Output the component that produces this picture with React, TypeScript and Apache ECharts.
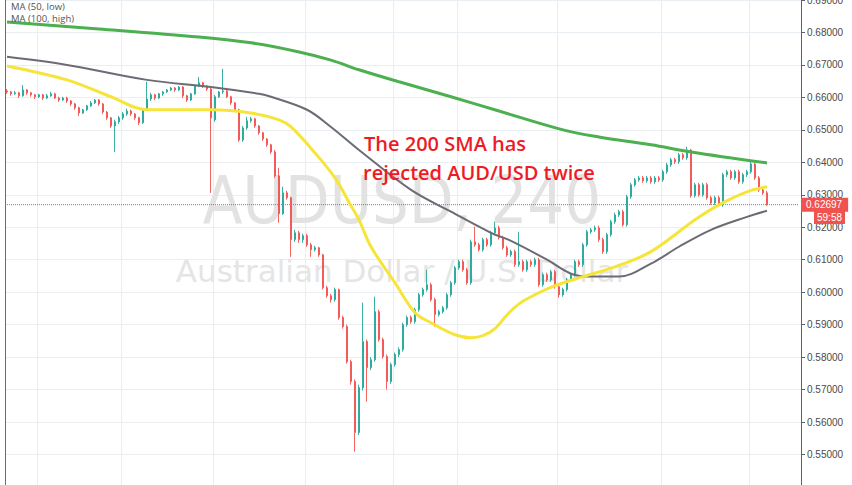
import React, { useEffect, useRef } from "react";
import * as echarts from "echarts";

// [open, close, low, high] per 4h bar
const candles: number[][] = [
  [0.6620,0.6617,0.6611,0.6626],[0.6617,0.6611,0.6605,0.6620],[0.6611,0.6614,0.6608,0.6620],[0.6614,0.6605,0.6598,0.6617],
  [0.6605,0.6623,0.6602,0.6638],[0.6623,0.6614,0.6608,0.6626],[0.6614,0.6608,0.6602,0.6617],[0.6608,0.6602,0.6595,0.6611],
  [0.6602,0.6608,0.6598,0.6611],[0.6608,0.6598,0.6592,0.6611],[0.6598,0.6605,0.6595,0.6611],[0.6605,0.6611,0.6602,0.6617],
  [0.6611,0.6598,0.6595,0.6614],[0.6598,0.6592,0.6586,0.6602],[0.6592,0.6598,0.6589,0.6602],[0.6598,0.6589,0.6583,0.6602],
  [0.6589,0.6580,0.6574,0.6592],[0.6580,0.6568,0.6562,0.6583],[0.6568,0.6552,0.6543,0.6571],[0.6552,0.6562,0.6549,0.6565],
  [0.6562,0.6574,0.6558,0.6577],[0.6574,0.6583,0.6571,0.6589],[0.6583,0.6592,0.6580,0.6595],[0.6592,0.6580,0.6574,0.6595],
  [0.6580,0.6555,0.6549,0.6583],[0.6555,0.6537,0.6531,0.6558],[0.6537,0.6512,0.6506,0.6540],[0.6512,0.6525,0.6432,0.6531],
  [0.6525,0.6537,0.6518,0.6543],[0.6537,0.6549,0.6531,0.6555],[0.6549,0.6558,0.6543,0.6565],[0.6558,0.6549,0.6543,0.6562],
  [0.6549,0.6537,0.6531,0.6552],[0.6537,0.6522,0.6515,0.6540],[0.6522,0.6562,0.6518,0.6565],[0.6562,0.6595,0.6558,0.6648],
  [0.6595,0.6608,0.6589,0.6614],[0.6608,0.6598,0.6592,0.6611],[0.6598,0.6611,0.6595,0.6614],[0.6611,0.6617,0.6605,0.6620],
  [0.6617,0.6623,0.6614,0.6626],[0.6623,0.6629,0.6620,0.6632],[0.6629,0.6623,0.6617,0.6632],[0.6623,0.6632,0.6620,0.6635],
  [0.6632,0.6605,0.6598,0.6635],[0.6605,0.6592,0.6586,0.6608],[0.6592,0.6611,0.6589,0.6614],[0.6611,0.6635,0.6608,0.6638],
  [0.6635,0.6645,0.6632,0.6663],[0.6645,0.6635,0.6629,0.6648],[0.6635,0.6626,0.6620,0.6638],[0.6626,0.6537,0.6306,0.6629],
  [0.6531,0.6602,0.6525,0.6608],[0.6602,0.6617,0.6598,0.6620],[0.6617,0.6620,0.6611,0.6688],[0.6620,0.6602,0.6598,0.6623],
  [0.6602,0.6583,0.6577,0.6605],[0.6583,0.6562,0.6555,0.6586],[0.6562,0.6469,0.6463,0.6565],[0.6469,0.6506,0.6463,0.6512],
  [0.6506,0.6528,0.6500,0.6540],[0.6528,0.6534,0.6522,0.6540],[0.6534,0.6512,0.6506,0.6537],[0.6512,0.6491,0.6485,0.6515],
  [0.6491,0.6472,0.6466,0.6494],[0.6472,0.6454,0.6448,0.6475],[0.6454,0.6432,0.6426,0.6457],[0.6432,0.6358,0.6352,0.6438],
  [0.6358,0.6242,0.6214,0.6383],[0.6242,0.6306,0.6238,0.6325],[0.6306,0.6291,0.6285,0.6312],[0.6291,0.6162,0.6109,0.6294],
  [0.6162,0.6183,0.6155,0.6192],[0.6183,0.6162,0.6152,0.6189],[0.6162,0.6174,0.6152,0.6180],[0.6174,0.6146,0.6140,0.6180],
  [0.6146,0.6131,0.6109,0.6152],[0.6131,0.6137,0.6125,0.6143],[0.6137,0.6115,0.6109,0.6140],[0.6115,0.6014,0.6008,0.6118],
  [0.6014,0.5989,0.5983,0.6020],[0.5989,0.5977,0.5968,0.5995],[0.5977,0.6008,0.5971,0.6014],[0.6008,0.5922,0.5915,0.6011],
  [0.5922,0.5894,0.5888,0.5928],[0.5894,0.5786,0.5780,0.5900],[0.5786,0.5725,0.5715,0.5792],[0.5725,0.5568,0.5509,0.5731],
  [0.5568,0.5706,0.5560,0.5715],[0.5706,0.5848,0.5697,0.5968],[0.5848,0.5768,0.5663,0.5854],[0.5768,0.5792,0.5760,0.5800],
  [0.5792,0.5940,0.5786,0.5986],[0.5940,0.5854,0.5848,0.5946],[0.5854,0.5802,0.5795,0.5860],[0.5802,0.5725,0.5700,0.5808],
  [0.5725,0.5777,0.5718,0.5783],[0.5777,0.5808,0.5771,0.5814],[0.5808,0.5823,0.5800,0.5830],[0.5823,0.5900,0.5817,0.5906],
  [0.5900,0.5922,0.5894,0.5928],[0.5922,0.5909,0.5903,0.5928],[0.5909,0.5946,0.5903,0.5952],[0.5946,0.5992,0.5940,0.5998],
  [0.5992,0.6008,0.5986,0.6014],[0.6008,0.6023,0.6002,0.6069],[0.6023,0.5977,0.5971,0.6029],[0.5977,0.5931,0.5894,0.5983],
  [0.5931,0.5940,0.5925,0.5946],[0.5940,0.5952,0.5934,0.5958],[0.5952,0.5992,0.5946,0.5998],[0.5992,0.6029,0.5986,0.6035],
  [0.6029,0.6075,0.6023,0.6081],[0.6075,0.6094,0.6069,0.6100],[0.6094,0.6069,0.6063,0.6100],[0.6069,0.6029,0.6023,0.6075],
  [0.6029,0.6155,0.6023,0.6162],[0.6155,0.6146,0.6140,0.6202],[0.6146,0.6131,0.6125,0.6152],[0.6131,0.6162,0.6125,0.6168],
  [0.6162,0.6146,0.6140,0.6168],[0.6146,0.6183,0.6140,0.6189],[0.6183,0.6198,0.6177,0.6217],[0.6198,0.6168,0.6162,0.6205],
  [0.6168,0.6137,0.6131,0.6174],[0.6137,0.6115,0.6109,0.6143],[0.6115,0.6125,0.6109,0.6131],[0.6125,0.6085,0.6078,0.6131],
  [0.6085,0.6094,0.6078,0.6186],[0.6094,0.6069,0.6063,0.6100],[0.6069,0.6094,0.6063,0.6100],[0.6094,0.6085,0.6078,0.6100],
  [0.6085,0.6100,0.6078,0.6106],[0.6100,0.6023,0.6017,0.6106],[0.6023,0.6054,0.6017,0.6060],[0.6054,0.6038,0.6032,0.6060],
  [0.6038,0.6063,0.6032,0.6069],[0.6063,0.6017,0.6011,0.6069],[0.6017,0.5992,0.5983,0.6023],[0.5992,0.6008,0.5986,0.6014],
  [0.6008,0.6038,0.6002,0.6044],[0.6038,0.6054,0.6032,0.6060],[0.6054,0.6094,0.6048,0.6100],[0.6094,0.6085,0.6078,0.6100],
  [0.6085,0.6146,0.6078,0.6152],[0.6146,0.6186,0.6140,0.6192],[0.6186,0.6192,0.6180,0.6198],[0.6192,0.6198,0.6186,0.6205],
  [0.6198,0.6162,0.6155,0.6205],[0.6162,0.6125,0.6118,0.6168],[0.6125,0.6177,0.6118,0.6183],[0.6177,0.6217,0.6171,0.6223],
  [0.6217,0.6238,0.6211,0.6245],[0.6238,0.6248,0.6232,0.6254],[0.6248,0.6208,0.6202,0.6254],[0.6208,0.6294,0.6202,0.6300],
  [0.6294,0.6331,0.6288,0.6337],[0.6331,0.6346,0.6325,0.6352],[0.6346,0.6352,0.6340,0.6358],[0.6352,0.6343,0.6337,0.6358],
  [0.6343,0.6352,0.6337,0.6358],[0.6352,0.6340,0.6334,0.6358],[0.6340,0.6352,0.6334,0.6358],[0.6352,0.6346,0.6340,0.6358],
  [0.6346,0.6371,0.6340,0.6377],[0.6371,0.6392,0.6365,0.6398],[0.6392,0.6408,0.6386,0.6414],[0.6408,0.6402,0.6395,0.6414],
  [0.6402,0.6423,0.6395,0.6429],[0.6423,0.6414,0.6408,0.6429],[0.6414,0.6438,0.6408,0.6448],[0.6438,0.6297,0.6291,0.6441],
  [0.6297,0.6331,0.6291,0.6337],[0.6331,0.6300,0.6294,0.6337],[0.6300,0.6331,0.6294,0.6337],[0.6331,0.6291,0.6285,0.6337],
  [0.6291,0.6275,0.6269,0.6297],[0.6275,0.6291,0.6269,0.6297],[0.6291,0.6269,0.6263,0.6297],[0.6269,0.6362,0.6263,0.6368],
  [0.6362,0.6371,0.6355,0.6377],[0.6371,0.6352,0.6346,0.6377],[0.6352,0.6371,0.6346,0.6377],[0.6371,0.6340,0.6334,0.6377],
  [0.6340,0.6362,0.6334,0.6368],[0.6362,0.6371,0.6355,0.6377],[0.6371,0.6395,0.6365,0.6402],[0.6395,0.6352,0.6346,0.6398],
  [0.6352,0.6315,0.6309,0.6358],[0.6315,0.6306,0.6300,0.6318],[0.6306,0.62697,0.6266,0.6312],
];

// empty bars to the right of the last candle
const padBars = 8;

// moving averages as [barIndex, value]
const ma50Low: number[][] = [
  [0,0.6697],[15,0.6654],[26,0.6602],[35,0.6562],[51,0.6562],[61,0.6552],[68,0.6531],[71,0.6509],
  [77,0.6429],[82,0.6352],[86,0.6266],[88,0.6223],[91,0.6140],[97,0.6029],[102,0.5937],[106,0.5906],
  [112,0.5869],[116,0.5860],[119,0.5866],[122,0.5888],[125,0.5930],[128,0.5964],[131,0.5986],
  [137,0.6020],[144,0.6048],[152,0.6078],[161,0.6125],[172,0.6223],[178,0.6269],[185,0.6309],[190,0.6325],
];
const ma100High: number[][] = [
  [0,0.6725],[15,0.6700],[35,0.6654],[51,0.6632],[63,0.6611],[66,0.6602],[75,0.6562],[81,0.6509],
  [88,0.6438],[101,0.6315],[111,0.6248],[121,0.6183],[126,0.6158],[135,0.6100],[141,0.6057],
  [146,0.6048],[153,0.6048],[161,0.6088],[168,0.6140],[176,0.6192],[185,0.6232],[190,0.6251],
];
const ma200: number[][] = [
  [0,0.6832],[23,0.6811],[48,0.6786],[61,0.6768],[73,0.6740],[81,0.6715],[88,0.6685],[98,0.6648],
  [111,0.6602],[123,0.6558],[139,0.6500],[148,0.6478],[161,0.6454],[171,0.6432],[190,0.6398],
];

const lastPrice = 0.62697;
const countdown = "59:58";
const yMin = 0.54;
const yMax = 0.69;
const yStep = 0.01;
const timeGridIdx = [8, 29, 52, 75, 97, 113, 138, 164, 186];
const legendLabels = ["MA (50, low)", "MA (100, high)"];
const symbolTitle = "AUDUSD, 240";
const symbolDesc = "Australian Dollar / U.S. Dollar";
const note = ["The 200 SMA has", "rejected AUD/USD twice"];

const UP = "#26a69a";
const DOWN = "#ef5350";
const GRID = "#e9eef3";

export default function App() {
  const ref = useRef<HTMLDivElement>(null);
  useEffect(() => {
    const chart = echarts.init(ref.current!, null, { renderer: "svg" });
    const nCats = candles.length + padBars;
    const cats = Array.from({ length: nCats }, (_, i) => String(i));
    chart.setOption({
      animation: false,
      backgroundColor: "#ffffff",
      grid: { left: 5, right: 51, top: 0, height: 487, outerBoundsMode: "none", containLabel: false },
      xAxis: {
        type: "category",
        data: cats,
        boundaryGap: true,
        axisLine: { show: false },
        axisTick: { show: false },
        axisLabel: { show: false },
        splitLine: {
          show: true,
          interval: (i: number) => timeGridIdx.includes(i),
          lineStyle: { color: GRID, width: 1 },
        },
      },
      yAxis: [
        {
          type: "value",
          position: "right",
          min: yMin,
          max: yMax,
          interval: yStep,
          axisLine: { show: true, lineStyle: { color: "#5d606b" } },
          axisTick: { show: true, length: 4, lineStyle: { color: "#5d606b" } },
          axisLabel: {
            formatter: (v: number) => v.toFixed(5),
            color: "#4a4a4a",
            fontSize: 10,
            margin: 6,
            fontFamily: "Liberation Sans",
            showMinLabel: false,
          },
          splitLine: { show: true, lineStyle: { color: GRID } },
        },
        {
          type: "value",
          position: "left",
          min: yMin,
          max: yMax,
          axisLine: { show: true, lineStyle: { color: "#6a6d78" } },
          axisTick: { show: false },
          axisLabel: { show: false },
          splitLine: { show: false },
        },
      ],
      series: [
        {
          type: "candlestick",
          data: candles,
          barWidth: 2.4,
          itemStyle: { color: UP, color0: DOWN, borderColor: UP, borderColor0: DOWN, borderWidth: 0.9 },
          z: 2,
        },
        {
          type: "line",
          data: [[0, lastPrice], [nCats - 1, lastPrice]],
          symbol: "none",
          silent: true,
          lineStyle: { color: DOWN, type: "dotted", width: 1 },
          z: 2,
          endLabel: {
            show: true,
            distance: 2,
            formatter: () => lastPrice.toFixed(5),
            color: "#ffffff",
            backgroundColor: DOWN,
            padding: [2, 6, 2, 5],
            fontSize: 10,
            fontFamily: "Liberation Sans",
          },
        },
        {
          type: "line",
          data: ma100High,
          smooth: 0.35,
          symbol: "none",
          lineStyle: { color: "#6b6b76", width: 2 },
          z: 3,
        },
        {
          type: "line",
          data: ma50Low,
          smooth: 0.35,
          symbol: "none",
          lineStyle: { color: "#f7e43a", width: 3 },
          z: 4,
        },
        {
          type: "line",
          data: ma200,
          smooth: 0.35,
          symbol: "none",
          lineStyle: { color: "#4caf50", width: 3 },
          z: 5,
        },
      ],
      graphic: [
        {
          type: "text",
          x: 402,
          y: 200,
          z: 1,
          scaleY: 1.15,
          style: {
            text: symbolTitle,
            fontFamily: "DejaVu Sans",
            fontSize: 58,
            fill: "#e2e2e2",
            align: "center",
            verticalAlign: "middle",
          },
        },
        {
          type: "text",
          x: 402,
          y: 271,
          z: 1,
          style: {
            text: symbolDesc,
            fontFamily: "DejaVu Sans",
            fontSize: 31,
            fill: "#e5e5e5",
            align: "center",
            verticalAlign: "middle",
          },
        },
        {
          type: "text",
          x: 364,
          y: 143,
          z: 100,
          style: {
            text: note[0],
            fontFamily: "Open Sans",
            fontWeight: 600,
            fontSize: 20,
            fill: "#ed1c24",
            align: "left",
            verticalAlign: "middle",
          },
        },
        {
          type: "text",
          x: 363,
          y: 172,
          z: 100,
          style: {
            text: note[1],
            fontFamily: "Open Sans",
            fontWeight: 600,
            fontSize: 20,
            fill: "#ed1c24",
            align: "left",
            verticalAlign: "middle",
          },
        },
        {
          type: "text",
          x: 11,
          y: 6,
          z: 100,
          style: {
            text: legendLabels[0],
            fontFamily: "Open Sans",
            fontSize: 9.5,
            fill: "#555",
            verticalAlign: "middle",
          },
        },
        {
          type: "text",
          x: 11,
          y: 18.5,
          z: 100,
          style: {
            text: legendLabels[1],
            fontFamily: "Open Sans",
            fontSize: 9.5,
            fill: "#555",
            verticalAlign: "middle",
          },
        },
        {
          type: "group",
          z: 100,
          children: [
            { type: "rect", shape: { x: 814, y: 211, width: 31, height: 13 }, style: { fill: DOWN }, z: 100 },
            {
              type: "text",
              x: 829.5,
              y: 217.5,
              z: 101,
              style: {
                text: countdown,
                fontFamily: "Liberation Sans",
                fontSize: 10,
                fill: "#fff",
                align: "center",
                verticalAlign: "middle",
              },
            },
          ],
        },
      ],
    });
    return () => chart.dispose();
  }, []);
  return (
    <div
      ref={ref}
      style={{ position: "fixed", left: 0, top: 0, width: 852, height: 485, background: "#fff" }}
    />
  );
}
